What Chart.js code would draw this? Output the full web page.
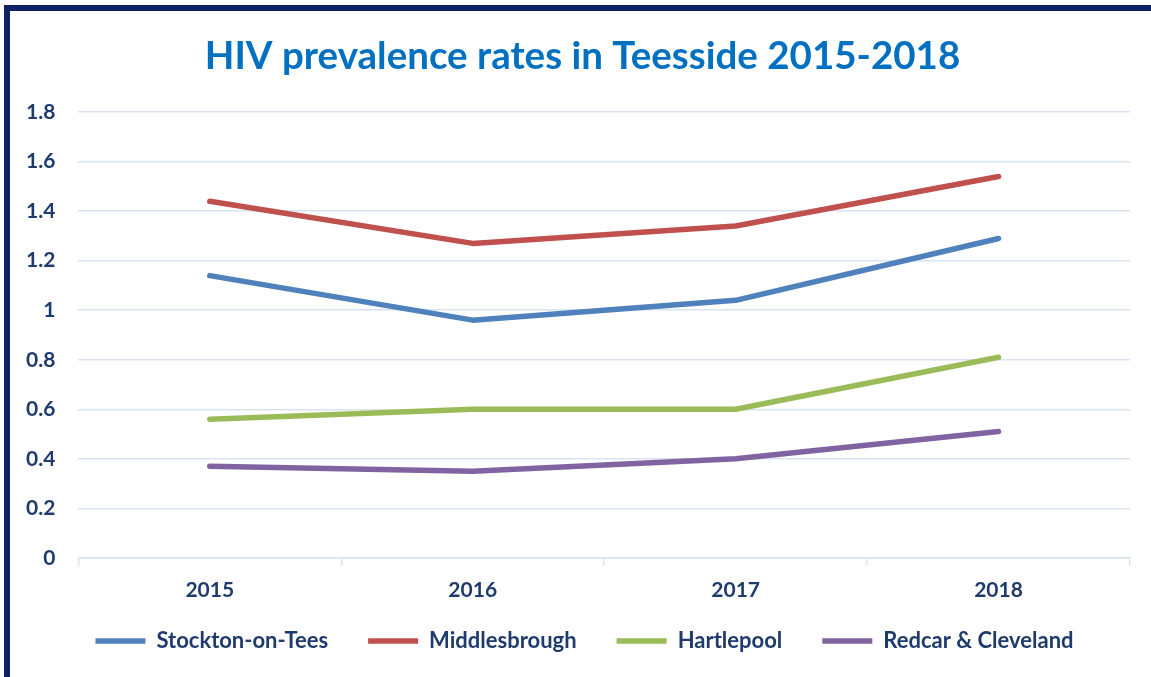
<!DOCTYPE html>
<html>
<head>
<meta charset="utf-8">
<script src="https://cdn.jsdelivr.net/npm/chart.js@4"></script>
<style>
    html, body { margin: 0; padding: 0; background: #fff; overflow: hidden; }
    #frame {
        position: absolute; left: 4px; top: 5px; width: 1200px; height: 720px;
        border-left: 6px solid #0c2363; border-top: 6px solid #0c2363;
    }
    #wrap { position: absolute; left: 0; top: 0; width: 1151px; height: 677px; }
</style>
</head>
<body>
<div id="frame"></div>
<div id="wrap"><canvas id="hivChart" width="1151" height="677"></canvas></div>
<script>
const years = ['2015', '2016', '2017', '2018'];
const stocktonRates = [1.14, 0.96, 1.04, 1.29];
const middlesbroughRates = [1.44, 1.27, 1.34, 1.54];
const hartlepoolRates = [0.56, 0.60, 0.60, 0.81];
const redcarRates = [0.37, 0.35, 0.40, 0.51];
const yTicks = [0, 0.2, 0.4, 0.6, 0.8, 1, 1.2, 1.4, 1.6, 1.8];

const labelColor = '#1f3b6e';
const gridColor = '#d9e3f1';
const fontFamily = 'Lato, "Open Sans", sans-serif';

function series(label, data, color) {
    return {
        label: label,
        data: data,
        borderColor: color,
        backgroundColor: color,
        borderWidth: 5.5,
        borderCapStyle: 'round',
        borderJoinStyle: 'round',
        pointRadius: 0,
        fill: false,
        tension: 0
    };
}

// nudge title and legend to the right, and pull the legend up under the years
const boxNudge = {
    id: 'boxNudge',
    afterLayout(chart) {
        chart.titleBlock.left += 16;
        chart.titleBlock.right += 16;
        chart.legend.left += 18;
        chart.legend.right += 18;
        chart.legend.top -= 25;
        chart.legend.bottom -= 25;
    }
};

const ctx = document.getElementById('hivChart').getContext('2d');
window.hivChart = new Chart(ctx, {
    type: 'line',
    data: {
        labels: years,
        datasets: [
            series('Stockton-on-Tees', stocktonRates, '#4f81bd'),
            series('Middlesbrough', middlesbroughRates, '#c0504d'),
            series('Hartlepool', hartlepoolRates, '#9bbb59'),
            series('Redcar & Cleveland', redcarRates, '#8064a2')
        ]
    },
    plugins: [boxNudge],
    options: {
        responsive: false,
        animation: false,
        layout: { padding: { left: 3, right: 21, top: 33, bottom: -10 } },
        plugins: {
            title: {
                display: true,
                text: 'HIV prevalence rates in Teesside 2015-2018',
                color: '#0070c0',
                font: { family: fontFamily, size: 38.5, weight: 'bold' },
                padding: { top: 0, bottom: 33 }
            },
            legend: {
                display: true,
                position: 'bottom',
                labels: {
                    usePointStyle: true,
                    pointStyle: 'line',
                    pointStyleWidth: 50,
                    padding: 40,
                    color: labelColor,
                    font: { family: fontFamily, size: 22, weight: 'bold' }
                }
            },
            tooltip: { enabled: false }
        },
        scales: {
            x: {
                offset: true,
                grid: {
                    offset: true,
                    drawOnChartArea: false,
                    drawTicks: true,
                    tickLength: 8,
                    color: gridColor,
                    lineWidth: 1.5
                },
                border: { color: gridColor, width: 1.5 },
                ticks: {
                    color: labelColor,
                    padding: 12,
                    font: { family: fontFamily, size: 21, weight: 'bold' }
                }
            },
            y: {
                min: 0,
                max: 1.8,
                afterBuildTicks: axis => {
                    axis.ticks = yTicks.map(v => ({ value: v }));
                },
                grid: { color: gridColor, lineWidth: 1.5, drawTicks: false },
                border: { display: false },
                ticks: {
                    color: labelColor,
                    padding: 23,
                    font: { family: fontFamily, size: 21, weight: 'bold' },
                    callback: value => String(Math.round(value * 10) / 10)
                }
            }
        }
    }
});
</script>
</body>
</html>
